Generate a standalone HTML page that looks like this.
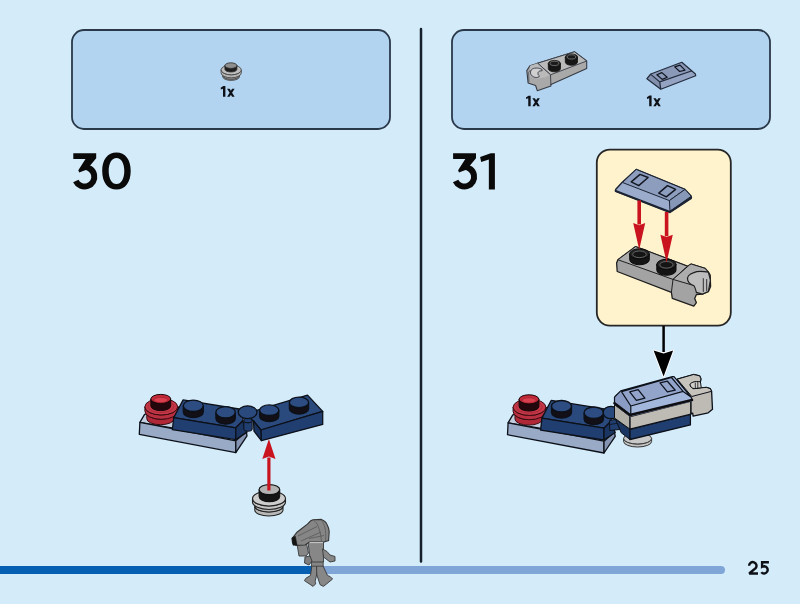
<!DOCTYPE html>
<html><head><meta charset="utf-8">
<style>
html,body{margin:0;padding:0;width:800px;height:604px;overflow:hidden;background:#d4ebfa;}
svg{display:block}
text{font-family:"Liberation Sans",sans-serif;font-weight:bold}
</style></head><body>
<svg width="800" height="604" viewBox="0 0 800 604">
<rect width="800" height="604" fill="#d4ebfa"/>
<!-- parts list boxes -->
<rect x="72" y="30" width="318" height="99" rx="12" fill="#b2d4f0" stroke="#2a394a" stroke-width="1.8"/>
<rect x="452" y="30" width="318" height="99" rx="12" fill="#b2d4f0" stroke="#2a394a" stroke-width="1.8"/>
<!-- divider -->
<line x1="421" y1="29" x2="421" y2="561.5" stroke="#16202c" stroke-width="2.5" stroke-linecap="round"/>
<!-- step numbers -->
<g id="d3" fill="#0a0a0a">
<path d="M73.3 153.2 H96.2 V158.2 L88.5 167.5 L85 170.2 L79.2 172.6 L78.3 170.2 L85.5 159 H73.3 Z"/>
<path d="M83.75 167.14 A9.7 9.7 0 1 1 75.81 180.9" fill="none" stroke="#0a0a0a" stroke-width="6"/>
</g>
<path fill="#0a0a0a" fill-rule="evenodd" d="M116.45 152.60 C125.28 152.60 130.70 159.61 130.70 171.05 C130.70 182.49 125.28 189.50 116.45 189.50 C107.62 189.50 102.20 182.49 102.20 171.05 C102.20 159.61 107.62 152.60 116.45 152.60Z M116.50 157.90 C121.18 157.90 124.30 163.14 124.30 171.00 C124.30 178.86 121.18 184.10 116.50 184.10 C111.82 184.10 108.70 178.86 108.70 171.00 C108.70 163.14 111.82 157.90 116.50 157.90Z"/>
<use href="#d3" x="379.8" y="0"/>
<path fill="#0a0a0a" d="M480.1 157.1 L490.75 153.2 H494.9 V189.5 H488.85 V159.6 L481.2 162.1 Z"/>
<!-- 1x labels -->
<g id="onex" transform="translate(220.7 96.7)">
<path fill="#0d1016" d="M0 -8.9 L2.6 -10.6 H4.7 V0 H2.3 V-8.0 L0.2 -7.2 Z"/>
<path fill="#0d1016" d="M6.4 -8.0 H8.9 L13.9 0 H11.4 Z M11.4 -8.0 H13.9 L8.9 0 H6.4 Z"/>
</g>
<use href="#onex" x="305.25" y="9.6"/>
<use href="#onex" x="426.2" y="9.5"/>
<path d="M222.80 75.60 L222.80 76.80 A8.30 3.60 0 0 0 239.40 76.80 L239.40 75.60 A8.30 3.60 0 0 1 222.80 75.60 Z" fill="#a3a3a3" stroke="#4a4a4a" stroke-width="0.9"/><ellipse cx="231.10" cy="75.60" rx="8.30" ry="3.60" fill="#a3a3a3" stroke="#4a4a4a" stroke-width="0.9"/>
<path d="M221.10 69.90 L221.10 72.90 A10.10 4.90 0 0 0 241.30 72.90 L241.30 69.90 A10.10 4.90 0 0 1 221.10 69.90 Z" fill="#b5b5b5" stroke="#4a4a4a" stroke-width="0.9"/><ellipse cx="231.20" cy="69.90" rx="10.10" ry="4.90" fill="#bdbdbd" stroke="#4a4a4a" stroke-width="0.9"/>
<path d="M224.90 65.60 L224.90 69.20 A6.00 2.80 0 0 0 236.90 69.20 L236.90 65.60 A6.00 2.80 0 0 1 224.90 65.60 Z" fill="#1e1e1e" stroke="#2a2a2a" stroke-width="0.8"/><ellipse cx="230.90" cy="65.60" rx="6.00" ry="2.80" fill="#8e8e8e" stroke="#2a2a2a" stroke-width="0.8"/>
<path d="M529.90 65.80 L537.70 63.20 L574.50 51.80 L586.70 61.00 L586.70 68.40 L550.90 84.60 L550.90 85.90 L537.30 90.70 L535.60 85.50 L528.10 82.90 L526.80 70.60 Z" fill="#a9a9a9" stroke="#363b45" stroke-width="1.1" stroke-linejoin="round" />
<path d="M537.70 63.20 L574.50 51.80 L586.70 61.00 L550.50 74.80 Z" fill="#bababa" stroke="#363b45" stroke-width="0.9" stroke-linejoin="round" />
<path d="M529.90 65.80 L537.70 63.20 L550.50 74.80 L545.00 77.50 L537.00 78.50 L530.00 76.00 Z" fill="#bababa" stroke="#363b45" stroke-width="0.0" stroke-linejoin="round" />
<path d="M537.70 63.20 L550.50 74.80 L550.90 84.60" fill="none" stroke="#363b45" stroke-width="0.9" stroke-linecap="round" stroke-linejoin="round"/>
<path d="M542.1 69.5 C539 67.5 533 67.5 531.2 70 C529.8 72.5 530.2 76 535.1 77.4 C537.5 77.8 539 77 539.6 76 C538 75 537.5 73.8 538.2 72.2 C539 71 540.5 70.6 542.1 70.8 Z" fill="#d0d0d0" stroke="#363b45" stroke-width="0.9"/>
<path d="M530.00 70.50 L528.50 72.50 L529.00 81.50" fill="none" stroke="#363b45" stroke-width="0.6" stroke-linecap="round" stroke-linejoin="round"/>
<path d="M548.30 63.60 L548.30 68.60 A6.10 3.20 0 0 0 560.50 68.60 L560.50 63.60 A6.10 3.20 0 0 1 548.30 63.60 Z" fill="#161616" stroke="#111" stroke-width="0.8"/><ellipse cx="554.40" cy="63.60" rx="6.10" ry="3.20" fill="#1e1e1e" stroke="#111" stroke-width="0.8"/>
<ellipse cx="554.40" cy="63.40" rx="4.30" ry="2.10" fill="#1a1a1a" stroke="#8a8a8a" stroke-width="0.7"/>
<path d="M565.30 57.10 L565.30 62.10 A6.10 3.20 0 0 0 577.50 62.10 L577.50 57.10 A6.10 3.20 0 0 1 565.30 57.10 Z" fill="#161616" stroke="#111" stroke-width="0.8"/><ellipse cx="571.40" cy="57.10" rx="6.10" ry="3.20" fill="#1e1e1e" stroke="#111" stroke-width="0.8"/>
<ellipse cx="571.40" cy="56.90" rx="4.30" ry="2.10" fill="#1a1a1a" stroke="#8a8a8a" stroke-width="0.7"/>
<path d="M650.80 74.00 L681.80 62.30 L695.40 74.00 L695.70 75.80 L660.80 89.30 L646.90 78.70 Z" fill="#94a3c2" stroke="none" stroke-width="0" stroke-linejoin="round" />
<path d="M650.80 74.40 L681.80 62.60 L692.10 70.80 L659.70 81.90 Z" fill="#8a99b8" stroke="none" stroke-width="0" stroke-linejoin="round" />
<path d="M650.80 74.40 L659.70 81.90 L660.80 89.30 L646.90 78.70 Z" fill="#8290ae" stroke="none" stroke-width="0" stroke-linejoin="round" />
<path d="M650.8 74.0 L681.8 62.3 L695.4 74.0 L695.7 75.8 L660.8 89.3 L646.9 78.7 Z M659.7 81.9 L692.1 70.8 M659.7 81.9 L660.8 89.3 M650.8 74.4 L659.7 81.9" fill="none" stroke="#222b3b" stroke-width="1.2" stroke-linejoin="round"/>
<path d="M656.90 74.70 L661.90 72.60 L667.20 77.20 L662.20 79.40 Z" fill="#8a99b8" stroke="#10141e" stroke-width="1.2" stroke-linejoin="round" />
<path d="M674.70 66.90 L680.00 65.10 L685.00 70.10 L679.70 71.50 Z" fill="#8a99b8" stroke="#10141e" stroke-width="1.2" stroke-linejoin="round" />
<!-- callout -->
<rect x="596.8" y="149.6" width="134" height="176" rx="13" fill="#fef3cd" stroke="#262626" stroke-width="1.8"/>
<line x1="663.6" y1="326" x2="663.6" y2="352" stroke="#000" stroke-width="2.5"/>
<path d="M653.6 350.5 L663.6 353.4 L673.1 350.5 L663.6 376.6 Z" fill="#000" stroke="#fff" stroke-width="1.8" paint-order="stroke" stroke-linejoin="round"/>
<path d="M636.25 169.40 L685.00 189.40 L691.25 196.25 L691.25 198.50 L670.00 212.50 L615.60 191.25 L615.60 189.50 L622.50 182.00 Z" fill="#9aabcb" stroke="#1c2433" stroke-width="1.4" stroke-linejoin="round" />
<path d="M636.25 169.40 L685.00 189.40 L669.40 200.60 L622.50 182.50 Z" fill="#8d9dbd" stroke="#1c2433" stroke-width="1.0" stroke-linejoin="round" />
<path d="M685.00 189.40 L691.25 196.25 L670.00 211.25 L669.40 200.60 Z" fill="#8797b7" stroke="#1c2433" stroke-width="1.0" stroke-linejoin="round" />
<path d="M615.60 190.80 L670.00 211.80 L691.25 197.50" fill="none" stroke="#1c2433" stroke-width="1.8" stroke-linecap="round" stroke-linejoin="round"/>
<path d="M631.25 181.90 L640.00 174.40 L648.10 177.50 L638.75 185.60 Z" fill="#8d9dbd" stroke="#101520" stroke-width="1.4" stroke-linejoin="round" />
<path d="M658.75 193.10 L667.50 185.60 L675.60 189.40 L666.25 196.90 Z" fill="#8d9dbd" stroke="#101520" stroke-width="1.4" stroke-linejoin="round" />
<path d="M617.90 259.70 L635.60 246.60 L687.40 266.20 L691.20 264.00 L705.00 268.30 L708.40 272.20 L710.20 275.20 L710.60 286.40 L708.40 291.50 L702.40 294.10 L696.40 294.50 L694.70 298.40 L696.40 302.70 L693.80 306.20 L672.30 298.40 L671.40 292.40 L617.20 271.50 L616.60 263.00 Z" fill="#a3a3a3" stroke="#1f1f1f" stroke-width="1.3" stroke-linejoin="round" />
<path d="M617.90 259.70 L635.60 246.60 L687.40 266.20 L673.00 279.40 Z" fill="#adadad" stroke="#1f1f1f" stroke-width="1.0" stroke-linejoin="round" />
<path d="M673.00 279.40 L689.50 264.90 L691.20 264.00 L705.00 268.30 L708.40 272.20 L693.80 272.60 L687.80 278.00 L688.50 282.00 L693.80 285.50 Z" fill="#adadad" stroke="#1f1f1f" stroke-width="1.0" stroke-linejoin="round" />
<path d="M673.00 279.40 L671.40 292.40" fill="none" stroke="#1f1f1f" stroke-width="1.0" stroke-linecap="round" stroke-linejoin="round"/>
<path d="M708.4 272.2 C702 271 696 271.5 693.8 272.6 C689 274 686.5 277 687.8 280.4 C689 283.5 692 285 693.8 285.5 C695 287 695.5 289 696.4 292.4 L702.4 294.1 L708.4 291.5 L710.4 280 Z" fill="#bdbdbd" stroke="#1f1f1f" stroke-width="1.2"/>
<path d="M703.30 278.60 L703.30 291.50" fill="none" stroke="#1f1f1f" stroke-width="0.9" stroke-linecap="round" stroke-linejoin="round"/>
<path d="M706.70 279.50 L706.70 290.70" fill="none" stroke="#1f1f1f" stroke-width="0.9" stroke-linecap="round" stroke-linejoin="round"/>
<path d="M629.70 253.80 L629.70 259.80 A9.80 5.00 0 0 0 649.30 259.80 L649.30 253.80 A9.80 5.00 0 0 1 629.70 253.80 Z" fill="#141414" stroke="#0a0a0a" stroke-width="1.0"/><ellipse cx="639.50" cy="253.80" rx="9.80" ry="5.00" fill="#262626" stroke="#0a0a0a" stroke-width="1.0"/>
<ellipse cx="639.50" cy="254.30" rx="6.80" ry="3.30" fill="#141414" stroke="#6a6a6a" stroke-width="0.9"/>
<path d="M656.80 264.30 L656.80 270.30 A9.60 5.00 0 0 0 676.00 270.30 L676.00 264.30 A9.60 5.00 0 0 1 656.80 264.30 Z" fill="#141414" stroke="#0a0a0a" stroke-width="1.0"/><ellipse cx="666.40" cy="264.30" rx="9.60" ry="5.00" fill="#262626" stroke="#0a0a0a" stroke-width="1.0"/>
<ellipse cx="666.40" cy="264.80" rx="6.60" ry="3.30" fill="#141414" stroke="#6a6a6a" stroke-width="0.9"/>
<path d="M639.20 200.50 V224.50" stroke="#c9141f" stroke-width="3.6" fill="none"/><path d="M633.20 223.00 L639.20 225.20 L645.20 223.00 L639.20 249.70 Z" fill="#c9141f"/>
<path d="M666.60 212.00 V236.30" stroke="#c9141f" stroke-width="3.6" fill="none"/><path d="M660.40 234.80 L666.60 237.00 L672.80 234.80 L666.60 262.50 Z" fill="#c9141f"/>
<g id="leftasm"><path d="M144.60 414.40 L182.00 406.50 L182.00 429.60 L139.90 422.40 Z" fill="#c2cee0" stroke="#0c1018" stroke-width="1.3" stroke-linejoin="round" />
<path d="M139.90 422.40 L235.80 440.80 L235.80 452.60 L139.30 434.30 Z" fill="#98aac6" stroke="#0c1018" stroke-width="1.3" stroke-linejoin="round" />
<path d="M235.80 440.80 L246.30 431.50 L247.00 435.90 L235.80 452.60 Z" fill="#8494b2" stroke="#0c1018" stroke-width="1.3" stroke-linejoin="round" />
<path d="M146.80 413.00 L146.80 418.70 A13.70 6.00 0 0 0 174.20 418.70 L174.20 413.00 A13.70 6.00 0 0 1 146.80 413.00 Z" fill="#b02838" stroke="#3a0a10" stroke-width="1.0"/><ellipse cx="160.50" cy="413.00" rx="13.70" ry="6.00" fill="#b02838" stroke="#3a0a10" stroke-width="1.0"/>
<path d="M144.90 406.80 L144.90 411.10 A16.40 8.20 0 0 0 177.70 411.10 L177.70 406.80 A16.40 8.20 0 0 1 144.90 406.80 Z" fill="#b83040" stroke="#3a0a10" stroke-width="1.0"/><ellipse cx="161.30" cy="406.80" rx="16.40" ry="8.20" fill="#c43848" stroke="#3a0a10" stroke-width="1.0"/>
<ellipse cx="161.00" cy="406.50" rx="13.00" ry="6.00" fill="none" stroke="#a82a38" stroke-width="0.8"/>
<path d="M150.90 398.90 L150.90 406.10 A9.90 4.50 0 0 0 170.70 406.10 L170.70 398.90 A9.90 4.50 0 0 1 150.90 398.90 Z" fill="#22080c" stroke="#1a0508" stroke-width="1.0"/><ellipse cx="160.80" cy="398.90" rx="9.90" ry="4.50" fill="#c22a3a" stroke="#1a0508" stroke-width="1.0"/>
<ellipse cx="160.80" cy="400.00" rx="7.00" ry="2.60" fill="#d84050" stroke="#9a1f28" stroke-width="0.6"/>
<path d="M183.10 399.90 L245.20 410.00 L242.60 421.00 L235.80 427.80 L173.70 417.70 Z" fill="#2a4a7e" stroke="#0c1018" stroke-width="1.3" stroke-linejoin="round" />
<path d="M173.70 417.70 L235.80 427.80 L235.80 439.60 L172.40 429.70 Z" fill="#213e71" stroke="#0c1018" stroke-width="1.3" stroke-linejoin="round" />
<path d="M235.80 427.80 L242.60 421.00 L247.00 432.10 L235.80 439.60 Z" fill="#1b3563" stroke="#0c1018" stroke-width="1.3" stroke-linejoin="round" />
<path d="M183.30 405.80 L183.30 412.00 A10.00 5.70 0 0 0 203.30 412.00 L203.30 405.80 A10.00 5.70 0 0 1 183.30 405.80 Z" fill="#120f16" stroke="#0c1018" stroke-width="1.3"/><ellipse cx="193.30" cy="405.80" rx="10.00" ry="5.70" fill="#2c4c82" stroke="#0c1018" stroke-width="1.3"/>
<path d="M215.90 412.30 L215.90 418.50 A9.70 5.70 0 0 0 235.30 418.50 L235.30 412.30 A9.70 5.70 0 0 1 215.90 412.30 Z" fill="#120f16" stroke="#0c1018" stroke-width="1.3"/><ellipse cx="225.60" cy="412.30" rx="9.70" ry="5.70" fill="#2c4c82" stroke="#0c1018" stroke-width="1.3"/></g>
<path d="M243.80 420.50 L243.80 429.00 A4.20 2.20 0 0 0 252.20 429.00 L252.20 420.50 A4.20 2.20 0 0 1 243.80 420.50 Z" fill="#213e71" stroke="#0c1018" stroke-width="1.0"/><ellipse cx="248.00" cy="420.50" rx="4.20" ry="2.20" fill="#213e71" stroke="#0c1018" stroke-width="1.0"/>
<path d="M245.60 413.70 L307.50 395.10 L322.70 411.40 L260.80 430.00 L253.50 421.00 Z" fill="#2a4a7e" stroke="#0c1018" stroke-width="1.3" stroke-linejoin="round" />
<path d="M260.80 430.00 L322.70 411.40 L322.70 424.40 L261.40 440.70 Z" fill="#213e71" stroke="#0c1018" stroke-width="1.3" stroke-linejoin="round" />
<path d="M253.50 421.00 L260.80 430.00 L261.40 440.70 L254.00 431.10 Z" fill="#1b3563" stroke="#0c1018" stroke-width="1.3" stroke-linejoin="round" />
<ellipse cx="247.60" cy="412.20" rx="9.40" ry="6.40" fill="#2a4a7e" stroke="#0c1018" stroke-width="1.3"/>
<path d="M259.60 410.20 L259.60 416.20 A9.60 5.30 0 0 0 278.80 416.20 L278.80 410.20 A9.60 5.30 0 0 1 259.60 410.20 Z" fill="#120f16" stroke="#0c1018" stroke-width="1.3"/><ellipse cx="269.20" cy="410.20" rx="9.60" ry="5.30" fill="#2c4c82" stroke="#0c1018" stroke-width="1.3"/>
<path d="M289.40 402.40 L289.40 408.70 A9.60 5.30 0 0 0 308.60 408.70 L308.60 402.40 A9.60 5.30 0 0 1 289.40 402.40 Z" fill="#120f16" stroke="#0c1018" stroke-width="1.3"/><ellipse cx="299.00" cy="402.40" rx="9.60" ry="5.30" fill="#2c4c82" stroke="#0c1018" stroke-width="1.3"/>
<path d="M254.80 506.00 L254.80 510.00 A14.10 6.00 0 0 0 283.00 510.00 L283.00 506.00 A14.10 6.00 0 0 1 254.80 506.00 Z" fill="#b8b8b8" stroke="#222" stroke-width="1.1"/><ellipse cx="268.90" cy="506.00" rx="14.10" ry="6.00" fill="#b8b8b8" stroke="#222" stroke-width="1.1"/>
<path d="M252.50 498.50 L252.50 502.00 A16.50 7.50 0 0 0 285.50 502.00 L285.50 498.50 A16.50 7.50 0 0 1 252.50 498.50 Z" fill="#c4c4c4" stroke="#222" stroke-width="1.1"/><ellipse cx="269.00" cy="498.50" rx="16.50" ry="7.50" fill="#cdcdcd" stroke="#222" stroke-width="1.1"/>
<path d="M259.10 489.60 L259.10 496.60 A10.30 5.00 0 0 0 279.70 496.60 L279.70 489.60 A10.30 5.00 0 0 1 259.10 489.60 Z" fill="#141414" stroke="#111" stroke-width="1.1"/><ellipse cx="269.40" cy="489.60" rx="10.30" ry="5.00" fill="#b3b3b3" stroke="#111" stroke-width="1.1"/>
<path d="M268.90 490.50 V457.50" stroke="#c9141f" stroke-width="3.2" fill="none"/><path d="M262.30 459.00 L268.90 456.60 L275.50 459.00 L268.90 439.10 Z" fill="#c9141f"/>
<use href="#leftasm" x="368.2" y="0.4"/>
<ellipse cx="611.00" cy="412.50" rx="7.80" ry="6.20" fill="#2a4a7e" stroke="#0c1018" stroke-width="1.3"/>
<path d="M609.50 420.50 L619.00 418.50 L619.50 429.50 L609.80 430.50 Z" fill="#213e71" stroke="#0c1018" stroke-width="1.0" stroke-linejoin="round" />
<path d="M610.00 424.50 L619.00 423.00" fill="none" stroke="#0c1018" stroke-width="0.8" stroke-linecap="round" stroke-linejoin="round"/>
<path d="M623.60 438.50 L623.60 441.50 A14.00 5.50 0 0 0 651.60 441.50 L651.60 438.50 A14.00 5.50 0 0 1 623.60 438.50 Z" fill="#c3c3c3" stroke="#333" stroke-width="1.0"/><ellipse cx="637.60" cy="438.50" rx="14.00" ry="5.50" fill="#c8c8c8" stroke="#333" stroke-width="1.0"/>
<path d="M615.50 419.30 L630.00 429.40 L630.00 439.50 L621.20 432.70 Z" fill="#1b3563" stroke="#0c1018" stroke-width="1.0" stroke-linejoin="round" />
<path d="M630.00 429.40 L690.40 414.20 L690.40 424.90 L630.00 439.50 Z" fill="#213e71" stroke="#0c1018" stroke-width="1.3" stroke-linejoin="round" />
<path d="M614.50 404.60 L630.00 416.50 L630.00 429.20 L614.50 418.00 Z" fill="#b2aea8" stroke="#0c1018" stroke-width="1.0" stroke-linejoin="round" />
<path d="M630.00 416.50 L691.00 401.00 L691.00 414.20 L630.00 429.20 Z" fill="#bebab4" stroke="#0c1018" stroke-width="1.3" stroke-linejoin="round" />
<path d="M677.20 379.20 L693.50 374.50 L699.60 375.80 L700.90 378.80 L700.40 381.80 L694.00 382.00 L690.10 384.00 L690.50 386.50 L693.50 388.70 L701.30 387.80 L706.50 387.40 L710.30 388.70 L711.60 391.30 L712.50 409.30 L708.20 412.80 L693.10 416.20 L692.70 413.20 L691.00 413.50 L691.00 400.00 Z" fill="#bebab4" stroke="#0c1018" stroke-width="1.3" stroke-linejoin="round" />
<path d="M677.20 379.20 L693.50 374.50 L699.60 375.80 L700.90 378.80 L700.40 381.80 L694.00 382.00 L690.10 384.00 L690.50 386.50 L693.50 388.70 L701.30 387.80 L706.50 387.40 L710.30 388.70 L711.60 391.30 L691.80 396.50 Z" fill="#c6c2bc" stroke="#0c1018" stroke-width="1.0" stroke-linejoin="round" />
<path d="M700.4 381.8 C695 381 690.5 382.5 690.1 384.5 C690 386.5 692 388.5 694.5 388.6 L701.3 387.8 Z" fill="#d2cfca" stroke="#0c1018" stroke-width="1.0"/>
<path d="M695.30 383.20 L695.30 388.30" fill="none" stroke="#0c1018" stroke-width="0.8" stroke-linecap="round" stroke-linejoin="round"/>
<path d="M697.80 382.50 L697.80 388.00" fill="none" stroke="#0c1018" stroke-width="0.8" stroke-linecap="round" stroke-linejoin="round"/>
<path d="M620.70 390.80 L672.40 376.70 L674.00 376.70 L691.00 397.00 L692.10 399.20 L691.60 401.50 L630.00 416.50 L614.50 404.60 L614.50 397.00 Z" fill="#a3b7dc" stroke="none" stroke-width="0" stroke-linejoin="round" />
<path d="M621.50 391.60 L671.50 377.50 L683.10 391.40 L630.80 406.00 Z" fill="#92a4ca" stroke="none" stroke-width="0" stroke-linejoin="round" />
<path d="M620.70 390.80 L621.50 391.60 L630.80 406.00 L630.80 413.30 L614.50 402.60 L614.50 397.00 Z" fill="#8a9cc3" stroke="none" stroke-width="0" stroke-linejoin="round" />
<path d="M614.5 397 L620.7 390.8 L672.4 376.7 L674 376.7 L691 397 L692.1 399.2 M621.5 391.6 L671.5 377.5 L683.1 391.4 L630.8 406 L621.5 391.6 M630.8 406 L630.8 414 M683.1 391.4 L691 397 M614.5 397 L614.5 404" fill="none" stroke="#0c1018" stroke-width="1.2" stroke-linejoin="round"/>
<path d="M614.50 403.20 L630.00 415.00 L692.00 400.00" fill="none" stroke="#0d0d12" stroke-width="2.6" stroke-linecap="round" stroke-linejoin="round"/>
<path d="M629.70 391.90 L638.10 389.70 L644.90 398.10 L636.40 400.40 Z" fill="#92a4ca" stroke="#0f1420" stroke-width="1.3" stroke-linejoin="round" />
<path d="M660.00 382.90 L667.40 381.20 L675.20 390.20 L667.40 391.90 Z" fill="#92a4ca" stroke="#0f1420" stroke-width="1.3" stroke-linejoin="round" />
<!-- progress bar -->
<rect x="0" y="566" width="320" height="8" fill="#055fb3"/>
<path d="M312 566 H721 A4 4 0 0 1 721 574 H312 Z" fill="#80a5d7"/>
<path d="M311.90 565.50 L319.30 565.50 L316.80 574.00 L315.20 581.40 L315.60 583.90 L313.10 586.40 L304.40 580.60 L306.10 578.10 L310.50 575.50 Z" fill="#878787" stroke="#383838" stroke-width="0.9" stroke-linejoin="round" />
<path d="M316.50 565.50 L322.80 565.50 L327.60 575.60 L330.10 576.50 L332.60 579.00 L323.50 586.40 L320.10 584.70 L316.80 574.80 Z" fill="#878787" stroke="#383838" stroke-width="0.9" stroke-linejoin="round" />
<path d="M311.50 561.50 L323.20 561.50 L323.20 566.20 L311.50 566.20 Z" fill="#858585" stroke="#383838" stroke-width="0.8" stroke-linejoin="round" />
<path d="M308.00 542.30 L323.50 542.30 L323.50 562.00 L310.50 562.00 Z" fill="#878787" stroke="#383838" stroke-width="0.9" stroke-linejoin="round" />
<path d="M297.20 545.00 L306.50 543.50 L308.50 553.00 L306.00 556.00 L299.00 556.00 Z" fill="#878787" stroke="#383838" stroke-width="0.9" stroke-linejoin="round" />
<path d="M305.00 557.00 L310.00 556.00 L312.00 561.00 L309.00 565.00 L304.50 563.00 Z" fill="#7e7e7e" stroke="#383838" stroke-width="0.9" stroke-linejoin="round" />
<path d="M322.50 549.00 L327.00 551.50 L330.00 555.00 L335.00 556.50 L335.00 561.00 L330.00 562.00 L323.50 557.00 Z" fill="#878787" stroke="#383838" stroke-width="0.9" stroke-linejoin="round" />
<path d="M292 538.5 L297 532.2 L307.7 523.9 C309.5 521.5 311 520 313 519.7 L321.4 519.4 C324.5 520.5 326 522 326.8 523.9 C328.5 527 329.2 529 329.2 531.7 L328.6 540.6 L324 542 L309.5 542 L305 545 L296 545.4 L292.5 543 Z" fill="#868686" stroke="#353535" stroke-width="1.1"/>
<path d="M298 536 L317 526.5 M301 541 L321 532 M309 538.5 L324 535.5 M313.5 520.5 C317 522 320 528 321.5 541 M321.4 520 C324.5 524 326.5 530 325.5 541" fill="none" stroke="#5e5e5e" stroke-width="0.9"/>
<path d="M292.00 537.80 L295.30 536.20 L297.00 545.00 L293.00 545.20 Z" fill="#151515" stroke="#151515" stroke-width="0.6" stroke-linejoin="round" />
<path d="M309.5 542.6 H323" stroke="#e0e0e0" stroke-width="0.9"/>
<path fill="none" stroke="#0d1016" stroke-width="2.4" stroke-miterlimit="2.5" d="M749.1 565.8 A3.7 3.7 0 1 1 755.63 568.18 L749.2 573.5 H758 M768.9 562.2 H762.1 V566.8 C762.8 566.4 763.6 566.3 764.4 566.3 A3.6 3.6 0 1 1 761.3 572.2"/>
</svg>
</body></html>
